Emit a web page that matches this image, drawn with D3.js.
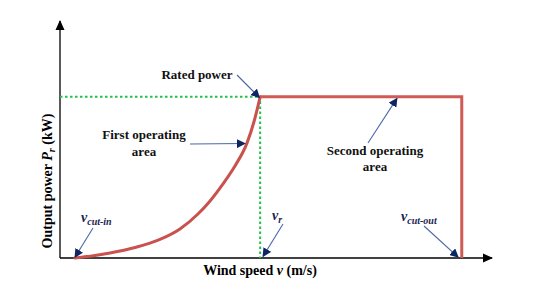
<!DOCTYPE html>
<html>
<head>
<meta charset="utf-8">
<script src="https://cdn.jsdelivr.net/npm/d3@7"></script>
<style>
  html, body { margin: 0; padding: 0; background: #fff; }
  svg { display: block; }
</style>
</head>
<body>
<div id="chart"></div>
<script>
'use strict';

// wind speed (m/s) and output power (p.u.)
const curveSpeed = [1.04, 2.43, 3.47, 5.21, 6.94, 8.33, 9.58, 10.42, 11.32, 12.15, 12.99, 13.47, 13.9];
const curvePower = [0, 0.0155, 0.031, 0.065, 0.115, 0.18, 0.273, 0.354, 0.46, 0.571, 0.714, 0.845, 1.0];

const vCutIn = 1.04;
const vRated = 13.9;
const vCutOut = 27.9;
const ratedPower = 1.0;

const speedDomain = [0, 30];
const powerDomain = [0, 1.47];

const serif = '"Liberation Serif", "Times New Roman", "DejaVu Serif", serif';

function buildPowerCurve() {
    const width = 551;
    const height = 304;

    const leftGutter = 60;
    const rightEdge = 492;
    const topEdge = 21;
    const baseLine = 258;

    const svg = d3.select("#chart")
        .append("svg")
            .attr("width", width)
            .attr("height", height)
            .attr("font-family", serif)
            .attr("font-weight", "bold");

    const defs = svg.append("defs");

    defs.append("marker")
        .attr("id", "axisHead")
        .attr("viewBox", "0 0 10 10")
        .attr("refX", 9).attr("refY", 5)
        .attr("markerWidth", 10).attr("markerHeight", 10)
        .attr("markerUnits", "userSpaceOnUse")
        .attr("orient", "auto")
        .append("path")
            .attr("d", "M0,0.5 L10,5 L0,9.5 Z")
            .attr("fill", "#000");

    defs.append("marker")
        .attr("id", "noteHead")
        .attr("viewBox", "0 0 10 10")
        .attr("refX", 9).attr("refY", 5)
        .attr("markerWidth", 9).attr("markerHeight", 9)
        .attr("markerUnits", "userSpaceOnUse")
        .attr("orient", "auto")
        .append("path")
            .attr("d", "M0,0 L10,5 L0,10 Z")
            .attr("fill", "#0d2563");

    const x = d3.scaleLinear()
        .domain(speedDomain)
        .range([leftGutter, rightEdge]);

    const y = d3.scaleLinear()
        .domain(powerDomain)
        .range([baseLine, topEdge]);

    // axes without ticks, arrows on the ends
    const xAxis = svg.append("g")
        .attr("transform", `translate(0,${baseLine})`)
        .call(d3.axisBottom(x).tickValues([]).tickSizeOuter(0));
    xAxis.select(".domain")
        .attr("d", `M${leftGutter},0H${rightEdge}`)
        .attr("stroke", "#000")
        .attr("stroke-width", 1.3)
        .attr("marker-end", "url(#axisHead)");

    const yAxis = svg.append("g")
        .attr("transform", `translate(${leftGutter},0)`)
        .call(d3.axisLeft(y).tickValues([]).tickSizeOuter(0));
    yAxis.select(".domain")
        .attr("d", `M0,${baseLine}V${topEdge}`)
        .attr("stroke", "#000")
        .attr("stroke-width", 1.3)
        .attr("marker-end", "url(#axisHead)");

    // green guide lines at rated point
    svg.append("path")
        .datum([[0, ratedPower], [vRated, ratedPower], [vRated, 0]])
        .attr("fill", "none")
        .attr("stroke", "#1fc24a")
        .attr("stroke-width", 2)
        .attr("stroke-dasharray", "2.5,2.5")
        .attr("d", d3.line()
            .x(d => x(d[0]))
            .y(d => y(d[1]))
        );

    // red power curve
    const curve = curveSpeed.map((v, i) => [v, curvePower[i]]);

    svg.append("path")
        .datum(curve)
        .attr("fill", "none")
        .attr("stroke", "#c9524e")
        .attr("stroke-width", 3)
        .attr("stroke-linecap", "round")
        .attr("d", d3.line()
            .curve(d3.curveMonotoneX)
            .x(d => x(d[0]))
            .y(d => y(d[1]))
        );

    svg.append("path")
        .datum([[vRated, ratedPower], [vCutOut, ratedPower], [vCutOut, 0]])
        .attr("fill", "none")
        .attr("stroke", "#d05a55")
        .attr("stroke-width", 3)
        .attr("d", d3.line()
            .x(d => x(d[0]))
            .y(d => y(d[1]))
        );

    // annotation arrows: start in pixels, target in data units
    const notes = [
        { from: [237, 75], to: [vRated - 0.05, ratedPower - 0.005] },
        { from: [190, 144], to: [12.85, 0.71] },
        { from: [368, 143], to: [23.4, ratedPower - 0.01] },
        { from: [93, 228], to: [vCutIn, 0.005] },
        { from: [283, 224], to: [vRated + 0.2, 0.01] },
        { from: [424, 226], to: [vCutOut - 0.25, 0.005] }
    ];

    svg.append("g")
        .selectAll("line")
        .data(notes)
        .enter()
        .append("line")
            .attr("x1", d => d.from[0])
            .attr("y1", d => d.from[1])
            .attr("x2", d => x(d.to[0]))
            .attr("y2", d => y(d.to[1]))
            .attr("stroke", "#4a68a8")
            .attr("stroke-width", 1.1)
            .attr("marker-end", "url(#noteHead)");

    // text labels
    const labels = [
        { text: "Rated power", x: 197, y: 79 },
        { text: "First operating", x: 144, y: 139 },
        { text: "area", x: 144, y: 156 },
        { text: "Second operating", x: 375, y: 155 },
        { text: "area", x: 375, y: 171 }
    ];

    svg.append("g")
        .selectAll("text")
        .data(labels)
        .enter()
        .append("text")
            .attr("x", d => d.x)
            .attr("y", d => d.y)
            .attr("text-anchor", "middle")
            .attr("font-size", 13)
            .attr("fill", "#111")
            .text(d => d.text);

    const speedLabels = [
        { sub: "cut-in", x: 81, y: 222 },
        { sub: "r", x: 272, y: 220 },
        { sub: "cut-out", x: 401, y: 221 }
    ];

    const speedText = svg.append("g")
        .selectAll("text")
        .data(speedLabels)
        .enter()
        .append("text")
            .attr("x", d => d.x)
            .attr("y", d => d.y)
            .attr("font-size", 14)
            .attr("font-style", "italic")
            .attr("fill", "#1b2550");

    speedText.append("tspan").text("v");
    speedText.append("tspan")
        .attr("dy", 3)
        .attr("font-size", 10)
        .text(d => d.sub);

    // axis titles
    svg.append("text")
        .attr("x", 260)
        .attr("y", 275)
        .attr("text-anchor", "middle")
        .attr("font-size", 14)
        .call(t => {
            t.append("tspan").text("Wind speed ");
            t.append("tspan").attr("font-style", "italic").text("v");
            t.append("tspan").text(" (m/s)");
        });

    svg.append("text")
        .attr("transform", "translate(52,181) rotate(-90)")
        .attr("text-anchor", "middle")
        .attr("font-size", 14)
        .call(t => {
            t.append("tspan").text("Output power ");
            t.append("tspan").attr("font-style", "italic").text("P");
            t.append("tspan").attr("font-style", "italic").attr("font-size", 10).attr("dy", 3).text("r");
            t.append("tspan").attr("dy", -3).text(" (kW)");
        });
}

window.addEventListener('DOMContentLoaded', () => {
    buildPowerCurve();
});
</script>
</body>
</html>
